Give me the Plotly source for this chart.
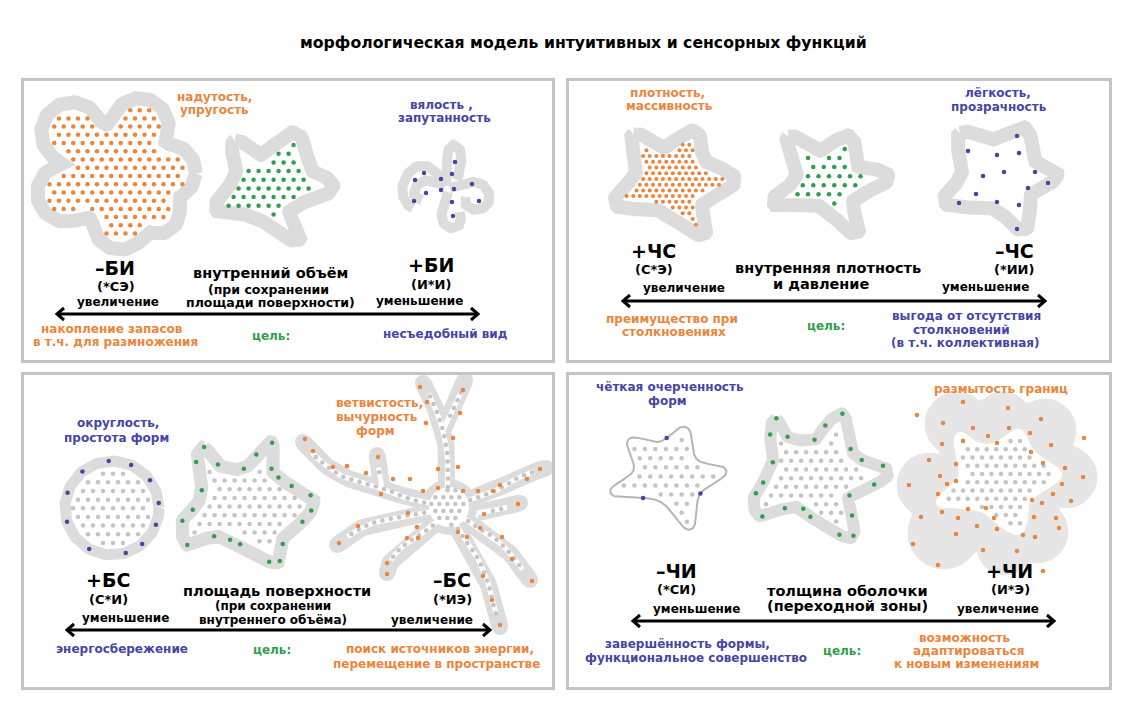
import numpy as np
import plotly.graph_objects as go

# ------------------------------------------------------------------ data
TITLE = "морфологическая модель интуитивных и сенсорных функций"

ORANGE = "#EC853C"
BLUE = "#4545A6"
GREEN = "#2F9E4D"
BLACK = "#000000"
RIM = "#DCDCDC"
DOTGRAY = "#C4C4C4"
BORDER = "#C4C4C4"
CLOUD = "#E6E6E6"

# panel frames (x0, y0, x1, y1) in picture pixels
PANELS = [(22.5, 79.5, 553.5, 361.5), (567.5, 79.5, 1110.5, 361.5),
          (22.5, 373.5, 553.5, 688.5), (567.5, 373.5, 1110.5, 688.5)]

# double arrows (x_left, x_right, y)
ARROWS = [(57, 478, 314), (623, 1045, 301), (67, 490, 630), (633, 1054, 621)]

# ---- panel 1 : внутренний объём
BLOB_BI_C = (113, 174)
BLOB_BI_LOBES = [(72, 133, 31), (140, 127, 29), (168, 172, 28), (158, 212, 22), (120, 223, 27),
                 (66, 193, 29), (113, 174, 50)]
STAR_BI_X = [235, 260, 295, 307, 331, 285, 298, 254, 218, 240]
STAR_BI_Y = [142, 160, 135, 172, 187, 208, 239, 212, 209, 176]
TANGLE_STROKES = [
    ([446, 448, 447, 452, 460, 461, 457], [186, 170, 155, 145, 150, 165, 180]),
    ([443, 432, 418, 407, 402, 406, 413], [178, 168, 166, 175, 190, 203, 208]),
    ([445, 430, 418, 414, 422], [185, 180, 184, 195, 200]),
    ([450, 465, 480, 489, 487, 476, 466, 466], [188, 183, 183, 193, 205, 210, 205, 197]),
    ([448, 443, 442, 450, 460, 460], [192, 205, 220, 228, 224, 212]),
]
TANGLE_DOT_X = [455, 424, 452, 415, 441, 472, 441, 454, 426, 414, 452, 479, 453]
TANGLE_DOT_Y = [162, 173, 174, 180, 179, 184, 190, 189, 193, 201, 202, 201, 216]

# ---- panel 2 : внутренняя плотность
STAR_CSP_X = [634, 662, 694, 701, 733, 698, 703, 662, 617, 640]
STAR_CSP_Y = [136, 153, 133, 163, 180, 202, 233, 207, 203, 175]
STAR_CSM_X = [789, 817, 849, 852, 887, 849, 856, 821, 775, 801]
STAR_CSM_Y = [138, 156, 138, 168, 177, 198, 232, 202, 203, 178]
STAR_CSN_X = [961, 989, 1024, 1029, 1056, 1028, 1024, 996, 947, 966]
STAR_CSN_Y = [135, 145, 130, 162, 175, 190, 228, 205, 202, 176]
CS_BLUE_X = [1017, 968, 997, 1019, 1004, 1035, 983, 1048, 1028, 976, 997, 1019, 959, 1017]
CS_BLUE_Y = [136, 151, 155, 153, 172, 172, 176, 183, 188, 194, 202, 205, 203, 229]

# ---- panel 3 : площадь поверхности
CIRCLE_C = (112, 508)
CIRCLE_R = 47
CIRCLE_BLUE_ANG = [6, 36, 66, 94, 129, 161, 197, 241, 287, 310, 339]
STAR_BS_X = [204, 218, 244, 257, 272, 270, 280, 295, 313, 305, 283, 282, 276, 255, 240, 214, 188, 183, 196, 203, 197]
STAR_BS_Y = [447, 466, 470, 455, 442, 468, 480, 489, 499, 518, 535, 550, 563, 552, 543, 535, 545, 521, 508, 490, 463]
BS_GREEN_X = [204, 272, 197, 216, 256, 244, 266, 277, 202, 290, 312, 193, 311, 183, 301, 214, 233, 188, 240, 281, 270, 282]
BS_GREEN_Y = [449, 443, 462, 467, 454, 469, 471, 479, 490, 489, 494, 510, 510, 521, 520, 535, 534, 544, 544, 544, 561, 563]
NEURON_C = (449, 507)
NEURON_BRANCHES = [
    ([447, 448, 447, 442, 433, 423], [503, 480, 453, 427, 403, 383]),
    ([443, 453, 462, 465], [430, 410, 390, 380]),
    ([440, 413, 387, 360, 340, 317, 303], [505, 500, 490, 482, 475, 458, 442]),
    ([382, 379, 377], [488, 471, 455]),
    ([440, 423, 400, 373, 353, 337], [510, 513, 517, 523, 533, 545]),
    ([445, 427, 407, 393, 387], [515, 530, 543, 557, 573]),
    ([450, 463, 477, 487, 493, 500], [515, 537, 557, 580, 603, 627]),
    ([455, 477, 497, 513, 530], [512, 527, 540, 557, 580]),
    ([455, 470, 497, 520, 546], [505, 500, 490, 477, 468]),
    ([477, 497, 520], [513, 510, 503]),
]
NEURON_DOT_X = [420, 463, 427, 460, 426, 305, 313, 453, 378, 333, 347, 366, 438, 458, 393, 410, 540, 527,
                423, 438, 463, 478, 493, 500, 381, 518, 408, 484, 358, 480, 417, 458, 467, 407, 418, 502,
                339, 512, 387, 387, 483, 532, 492, 500]
NEURON_DOT_Y = [387, 390, 402, 413, 423, 439, 451, 438, 457, 467, 466, 473, 469, 467, 479, 479, 469, 479,
                491, 488, 491, 491, 491, 485, 494, 504, 513, 514, 526, 528, 527, 532, 537, 538, 538, 537,
                543, 559, 563, 574, 576, 581, 600, 625]

# ---- panel 4 : толщина оболочки
STAR_CIM_X = [629, 660, 686, 695, 726, 698, 690, 660, 611, 636]
STAR_CIM_Y = [440, 444, 428, 461, 471, 493, 529, 499, 493, 471]
CI_BLUE_X = [665, 697, 643]
CI_BLUE_Y = [436, 491, 498]
STAR_CIC_X = [776, 787, 815, 826, 843, 847, 851, 861, 882, 887, 873, 848, 851, 853, 840, 811, 803, 785, 761, 754, 764, 774, 771]
STAR_CIC_Y = [418, 438, 441, 426, 414, 440, 452, 461, 466, 476, 484, 495, 515, 536, 534, 516, 507, 507, 516, 500, 483, 462, 435]
CI_GREEN_X = [776, 842, 771, 787, 826, 815, 848, 774, 861, 882, 764, 873, 755, 848, 785, 804, 762, 811, 852, 840, 853]
CI_GREEN_Y = [420, 415, 435, 438, 426, 441, 450, 462, 461, 467, 483, 483, 493, 495, 507, 507, 516, 516, 516, 533, 535]
CLOUD_C = (997, 484)
CLOUD_LOBES = [(957, 424, 32), (1003, 420, 28), (1045, 430, 31), (1066, 477, 31), (1037, 532, 31),
               (1005, 547, 28), (944, 533, 36), (929, 485, 32), (997, 484, 64)]
FUZZ_STAR_X = [960, 975, 993, 1008, 1020, 1026, 1037, 1060, 1045, 1027, 1025, 1020, 1005, 985, 960, 938, 950, 962, 960, 957]
FUZZ_STAR_Y = [434, 445, 447, 438, 431, 445, 458, 474, 486, 500, 515, 532, 526, 510, 505, 504, 490, 478, 460, 442]
FUZZ_DOT_X = [963, 1008, 917, 1041, 943, 973, 1009, 1030, 988, 1084, 942, 963, 997, 1051, 1031, 929, 956, 1043,
              1065, 940, 1083, 947, 956, 909, 1062, 1053, 938, 1071, 1032, 1042, 968, 986, 942, 921, 958, 1034,
              1056, 994, 977, 997, 1059, 1023, 1035, 956, 913, 983, 1017, 938, 1043]
FUZZ_DOT_Y = [402, 408, 415, 419, 423, 428, 428, 433, 436, 438, 444, 441, 443, 445, 452, 460, 464, 463,
              468, 476, 477, 484, 481, 485, 484, 494, 494, 501, 500, 503, 509, 508, 512, 517, 518, 517,
              518, 518, 526, 529, 528, 535, 537, 534, 544, 550, 551, 565, 571]

# text labels: (x, y, text, size, colour)
LABELS = [
    (583, 42, TITLE, 15.7, BLACK),
    (214, 97, "надутость,", 12, ORANGE), (214, 110, "упругость", 12, ORANGE),
    (441, 105, "вялость ,", 12, BLUE), (444, 118, "запутанность", 12, BLUE),
    (115, 268, "–БИ", 19, BLACK), (116, 286, "(*СЭ)", 13, BLACK), (118, 302, "увеличение", 12, BLACK),
    (270, 273, "внутренний объём", 14.5, BLACK), (268, 289, "(при сохранении", 12.5, BLACK),
    (270, 302, "площади поверхности)", 12.5, BLACK),
    (431, 265, "+БИ", 19, BLACK), (431, 284, "(И*И)", 13, BLACK), (419, 301, "уменьшение", 12, BLACK),
    (112, 329, "накопление запасов", 12, ORANGE), (115, 342, "в т.ч. для размножения", 12, ORANGE),
    (271, 336, "цель:", 12, GREEN), (445, 334, "несъедобный вид", 12, BLUE),

    (667, 93, "плотность,", 12, ORANGE), (669, 106, "массивность", 12, ORANGE),
    (998, 93, "лёгкость,", 12, BLUE), (999, 107, "прозрачность", 12, BLUE),
    (653, 251, "+ЧС", 19, BLACK), (654, 269, "(С*Э)", 13, BLACK), (684, 288, "увеличение", 12, BLACK),
    (828, 268, "внутренняя плотность", 14.5, BLACK), (821, 284, "и давление", 14.5, BLACK),
    (1014, 251, "–ЧС", 19, BLACK), (1014, 269, "(*ИИ)", 13, BLACK), (985, 287, "уменьшение", 12, BLACK),
    (672, 319, "преимущество при", 12, ORANGE), (674, 332, "столкновениях", 12, ORANGE),
    (826, 326, "цель:", 12, GREEN),
    (966, 316, "выгода от отсутствия", 12, BLUE), (961, 330, "столкновений", 12, BLUE),
    (965, 343, "(в т.ч. коллективная)", 12, BLUE),

    (118, 423, "округлость,", 12, BLUE), (116, 438, "простота форм", 12, BLUE),
    (379, 403, "ветвистость,", 12, ORANGE), (377, 417, "вычурность", 12, ORANGE), (375, 431, "форм", 12, ORANGE),
    (108, 580, "+БС", 19, BLACK), (108, 599, "(С*И)", 13, BLACK), (125, 618, "уменьшение", 12, BLACK),
    (277, 591, "площадь поверхности", 14.5, BLACK), (273, 606, "(при сохранении", 12, BLACK),
    (273, 620, "внутреннего объёма)", 12, BLACK),
    (452, 580, "–БС", 19, BLACK), (452, 599, "(*ИЭ)", 13, BLACK), (432, 620, "увеличение", 12, BLACK),
    (122, 649, "энергосбережение", 12, BLUE), (272, 650, "цель:", 12, GREEN),
    (440, 649, "поиск источников энергии,", 12, ORANGE), (436, 664, "перемещение в пространстве", 12, ORANGE),

    (670, 387, "чёткая очерченность", 12, BLUE), (667, 401, "форм", 12, BLUE),
    (1001, 389, "размытость границ", 12, ORANGE),
    (676, 571, "–ЧИ", 19, BLACK), (676, 589, "(*СИ)", 13, BLACK), (696, 609, "уменьшение", 12, BLACK),
    (847, 591, "толщина оболочки", 14.5, BLACK), (847, 606, "(переходной зоны)", 14.5, BLACK),
    (1009, 571, "+ЧИ", 19, BLACK), (1010, 589, "(И*Э)", 13, BLACK), (998, 609, "увеличение", 12, BLACK),
    (687, 644, "завершённость формы,", 12, BLUE), (696, 658, "функциональное совершенство", 12, BLUE),
    (842, 651, "цель:", 12, GREEN),
    (964, 638, "возможность", 12, ORANGE), (968, 651, "адаптироваться", 12, ORANGE),
    (966, 664, "к новым изменениям", 12, ORANGE),
]


# ------------------------------------------------------------------ helpers
def spline(px, py, closed=True, n=14):
    P = np.column_stack([px, py]).astype(float)
    if closed:
        Q = np.vstack([P[-1], P, P[0], P[1]])
    else:
        Q = np.vstack([P[0], P, P[-1]])
    t = np.linspace(0, 1, n, endpoint=False)[:, None]
    segs = []
    for i in range(1, len(Q) - 2):
        p0, p1, p2, p3 = Q[i - 1], Q[i], Q[i + 1], Q[i + 2]
        segs.append(0.5 * (2 * p1 + (-p0 + p2) * t + (2 * p0 - 5 * p1 + 4 * p2 - p3) * t ** 2
                           + (-p0 + 3 * p1 - 3 * p2 + p3) * t ** 3))
    S = np.vstack(segs)
    S = np.vstack([S, S[:1]]) if closed else np.vstack([S, P[-1]])
    return S[:, 0], S[:, 1]


def area(xs, ys):
    return 0.5 * abs(np.sum(xs[:-1] * ys[1:] - xs[1:] * ys[:-1]))


def refine(xs, ys, win=1, d=0.0, step=1.0):
    """resample a closed outline, smooth it and push it outwards by d pixels"""
    xs = np.asarray(xs, float)
    ys = np.asarray(ys, float)
    seg = np.hypot(np.diff(xs), np.diff(ys))
    s = np.concatenate([[0], np.cumsum(seg)])
    ss = np.arange(0, s[-1], step)
    x = np.interp(ss, s, xs)
    y = np.interp(ss, s, ys)
    if win > 1:
        k = np.ones(win) / win
        h = win // 2
        x = np.convolve(np.concatenate([x[-h:], x, x[:h]]), k, mode="valid")[:len(ss)]
        y = np.convolve(np.concatenate([y[-h:], y, y[:h]]), k, mode="valid")[:len(ss)]
    if d:
        tx = np.roll(x, -1) - np.roll(x, 1)
        ty = np.roll(y, -1) - np.roll(y, 1)
        nrm = np.hypot(tx, ty) + 1e-9
        nx, ny = ty / nrm, -tx / nrm
        xa, ya = np.append(x + d * nx, x[0] + d * nx[0]), np.append(y + d * ny, y[0] + d * ny[0])
        xb, yb = np.append(x - d * nx, x[0] - d * nx[0]), np.append(y - d * ny, y[0] - d * ny[0])
        return (xa, ya) if area(xa, ya) > area(xb, yb) else (xb, yb)
    return np.append(x, x[0]), np.append(y, y[0])


def disc_union(c, lobes, nang=240):
    th = np.linspace(0, 2 * np.pi, nang, endpoint=False)
    ux, uy = np.cos(th), -np.sin(th)
    r = np.zeros(nang)
    for lx, ly, lr in lobes:
        px, py = lx - c[0], ly - c[1]
        pu = px * ux + py * uy
        disc = lr ** 2 - (px ** 2 + py ** 2 - pu ** 2)
        t = np.where(disc >= 0, pu + np.sqrt(np.maximum(disc, 0)), 0)
        r = np.maximum(r, t)
    x = c[0] + r * ux
    y = c[1] + r * uy
    return np.append(x, x[0]), np.append(y, y[0])


def inside(px, py, xs, ys):
    x = np.asarray(px, float)[:, None]
    y = np.asarray(py, float)[:, None]
    x1, y1, x2, y2 = xs[None, :-1], ys[None, :-1], xs[None, 1:], ys[None, 1:]
    cond = (y1 > y) != (y2 > y)
    den = np.where(np.abs(y2 - y1) < 1e-9, 1e-9, y2 - y1)
    xi = x1 + (y - y1) * (x2 - x1) / den
    return ((cond & (x < xi)).sum(axis=1) % 2) == 1


def lattice(xs, ys, step, margin):
    pts = []
    y = ys.min() + step * 0.4
    j = 0
    while y < ys.max():
        off = (step / 2) * (j % 2)
        for x in np.arange(xs.min() + off + step * 0.3, xs.max(), step):
            pts.append((x, y))
        y += step * 0.866
        j += 1
    pts = np.array(pts)
    m = inside(pts[:, 0], pts[:, 1], xs, ys)
    d = np.sqrt((pts[:, 0:1] - xs[None, :]) ** 2 + (pts[:, 1:2] - ys[None, :]) ** 2).min(axis=1)
    m &= d > margin
    return pts[m, 0], pts[m, 1]


def snap(px, py, xs, ys):
    px = np.asarray(px, float)
    py = np.asarray(py, float)
    d = (px[:, None] - xs[None, :]) ** 2 + (py[:, None] - ys[None, :]) ** 2
    k = d.argmin(axis=1)
    return xs[k], ys[k]


fig = go.Figure()


def outline(xs, ys, width, color=RIM, fill="white"):
    fig.add_trace(go.Scatter(x=xs, y=ys, mode="lines", fill="toself", fillcolor=fill,
                             line=dict(color=color, width=width), hoverinfo="skip"))


def dots(xs, ys, color, size=4.5):
    fig.add_trace(go.Scatter(x=xs, y=ys, mode="markers", hoverinfo="skip",
                             marker=dict(color=color, size=size, line=dict(width=0))))


def stroke(xs, ys, width, color):
    fig.add_trace(go.Scatter(x=xs, y=ys, mode="lines", hoverinfo="skip",
                             line=dict(color=color, width=width)))


def star(px, py, win, d):
    sx, sy = spline(px, py)
    return refine(sx, sy, win, d)


# ------------------------------------------------------------------ panel 1
bx, by = disc_union(BLOB_BI_C, BLOB_BI_LOBES)
bx, by = refine(bx, by, 9, 0)
outline(bx, by, 14)
dots(*lattice(bx, by, 9.5, 8.5), ORANGE)

sx, sy = star(STAR_BI_X, STAR_BI_Y, 15, 4)
outline(sx, sy, 14)
dots(*lattice(sx, sy, 10, 8.5), GREEN)

for tx, ty in TANGLE_STROKES:
    cx, cy = spline(tx, ty, closed=False)
    stroke(cx, cy, 10, RIM)
dots(TANGLE_DOT_X, TANGLE_DOT_Y, BLUE)

# ------------------------------------------------------------------ panel 2
sx, sy = star(STAR_CSP_X, STAR_CSP_Y, 15, 4)
outline(sx, sy, 14)
dots(*lattice(sx, sy, 6.6, 8), ORANGE, 4)

sx, sy = star(STAR_CSM_X, STAR_CSM_Y, 15, 4)
outline(sx, sy, 14)
dots(*lattice(sx, sy, 10.5, 8.5), GREEN)

sx, sy = star(STAR_CSN_X, STAR_CSN_Y, 15, 4)
outline(sx, sy, 14)
dots(CS_BLUE_X, CS_BLUE_Y, BLUE)

# ------------------------------------------------------------------ panel 3
ang = np.linspace(0, 2 * np.pi, 181)
cx = CIRCLE_C[0] + CIRCLE_R * np.cos(ang)
cy = CIRCLE_C[1] - CIRCLE_R * np.sin(ang)
outline(cx, cy, 11)
dots(*lattice(cx, cy, 10, 8), DOTGRAY)
a = np.deg2rad(CIRCLE_BLUE_ANG)
dots(CIRCLE_C[0] + CIRCLE_R * np.cos(a), CIRCLE_C[1] - CIRCLE_R * np.sin(a), BLUE)

sx, sy = star(STAR_BS_X, STAR_BS_Y, 9, 1)
outline(sx, sy, 13)
dots(*lattice(sx, sy, 10, 8.5), DOTGRAY)
dots(*snap(BS_GREEN_X, BS_GREEN_Y, sx, sy), GREEN)

# neuron-like branched shape
tips_x, tips_y = [], []
branch_curves = []
for bxs, bys in NEURON_BRANCHES:
    cxs, cys = spline(bxs, bys, closed=False, n=10)
    branch_curves.append((cxs, cys))
    tips_x.append(cxs[-1]); tips_y.append(cys[-1])
for cxs, cys in branch_curves:
    stroke(cxs, cys, 17, RIM)
dots(tips_x, tips_y, RIM, 16)
dots([NEURON_C[0]], [NEURON_C[1]], RIM, 56)
gdx, gdy = [], []
for cxs, cys in branch_curves:
    seg = np.hypot(np.diff(cxs), np.diff(cys))
    s = np.concatenate([[0], np.cumsum(seg)])
    L = s[-1]
    keep = s <= L - 12
    stroke(cxs[keep], cys[keep], 5, "white")
    for dd in np.arange(16, L - 12, 8.5):
        gdx.append(np.interp(dd, s, cxs)); gdy.append(np.interp(dd, s, cys))
dots([NEURON_C[0]], [NEURON_C[1]], "white", 40)
ang2 = np.linspace(0, 2 * np.pi, 61)
nx = NEURON_C[0] + 20 * np.cos(ang2)
ny = NEURON_C[1] - 20 * np.sin(ang2)
lx, ly = lattice(nx, ny, 8, 2)
dots(list(lx) + gdx, list(ly) + gdy, DOTGRAY)
dots(NEURON_DOT_X, NEURON_DOT_Y, ORANGE)

# ------------------------------------------------------------------ panel 4
sx, sy = star(STAR_CIM_X, STAR_CIM_Y, 11, 2)
outline(sx, sy, 2, color="#B5B5B5")
dots(*lattice(sx, sy, 10.5, 5), DOTGRAY)
dots(*snap(CI_BLUE_X, CI_BLUE_Y, sx, sy), BLUE)

sx, sy = star(STAR_CIC_X, STAR_CIC_Y, 9, 1)
outline(sx, sy, 12)
dots(*lattice(sx, sy, 10, 8), DOTGRAY)
dots(*snap(CI_GREEN_X, CI_GREEN_Y, sx, sy), GREEN)

ox, oy = disc_union(CLOUD_C, CLOUD_LOBES)
ox, oy = refine(ox, oy, 7, 0)
outline(ox, oy, 1, color=CLOUD, fill=CLOUD)
sx, sy = star(FUZZ_STAR_X, FUZZ_STAR_Y, 11, 3)
outline(sx, sy, 1, color="white")
dots(*lattice(sx, sy, 9.5, 4), DOTGRAY)
dots(FUZZ_DOT_X, FUZZ_DOT_Y, ORANGE)

# ------------------------------------------------------------------ arrows
for x0, x1, y in ARROWS:
    stroke([x0, x1], [y, y], 3, BLACK)
    stroke([x0 + 7, x0, x0 + 7], [y - 6, y, y + 6], 3, BLACK)
    stroke([x1 - 7, x1, x1 - 7], [y - 6, y, y + 6], 3, BLACK)

# ------------------------------------------------------------------ frames and text
shapes = [dict(type="rect", x0=p[0], y0=p[1], x1=p[2], y1=p[3], xref="x", yref="y",
               line=dict(color=BORDER, width=3), fillcolor="rgba(0,0,0,0)", layer="above")
          for p in PANELS]
annotations = [dict(x=x, y=y, xref="x", yref="y", text="<b>%s</b>" % t, showarrow=False,
                    xanchor="center", yanchor="middle",
                    font=dict(family="DejaVu Sans", size=s, color=c))
               for x, y, t, s, c in LABELS]

fig.update_layout(
    width=1134, height=724, margin=dict(l=0, r=0, t=0, b=0),
    paper_bgcolor="white", plot_bgcolor="white", showlegend=False,
    xaxis=dict(range=[0, 1134], visible=False, fixedrange=True),
    yaxis=dict(range=[724, 0], visible=False, fixedrange=True),
    shapes=shapes, annotations=annotations,
)
fig.write_html("out.html", config={"displayModeBar": False},
               post_script="document.body.style.margin='0';document.body.style.overflow='hidden';")
